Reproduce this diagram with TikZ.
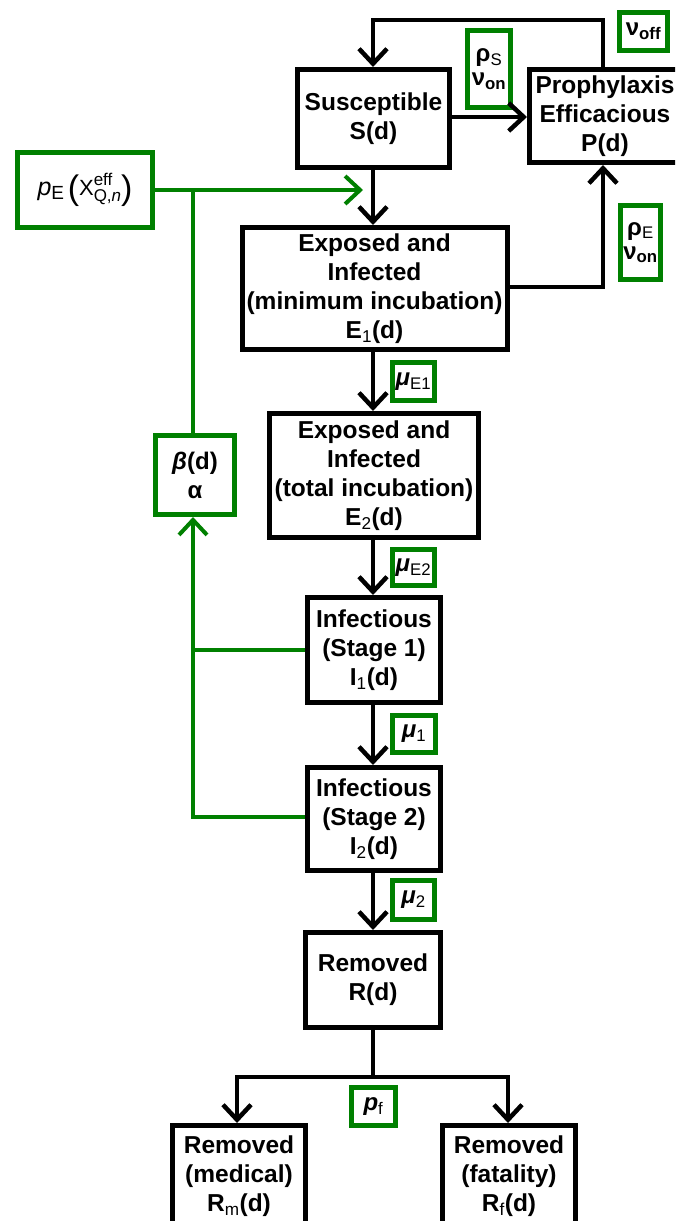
\documentclass[tikz,border=0pt]{standalone}
\usepackage{fontspec}
\setmainfont{Liberation Sans}
\usetikzlibrary{arrows.meta}
\definecolor{grn}{RGB}{0,128,0}
\newcommand{\sub}[1]{\textsubscript{\mdseries #1}}
\begin{document}
\begin{tikzpicture}[x=1pt,y=-1pt,
  comp/.style={draw=black,line width=5pt,fill=white,align=center,inner sep=0pt,
    font=\bfseries\fontsize{24.5}{29}\selectfont},
  param/.style={draw=grn,line width=5pt,fill=white,align=center,inner sep=0pt,
    font=\fontsize{24}{27}\selectfont},
  flow/.style={line width=4.5pt,-{Straight Barb[length=15pt,width=28pt]}},
  link/.style={line width=4.5pt},
  gflow/.style={draw=grn,line width=4pt,-{Straight Barb[length=15pt,width=28pt]}},
  glink/.style={draw=grn,line width=4pt}]
\useasboundingbox (0,0) rectangle (675,1221);
\clip (0,0) rectangle (675,1221);
\fill[white] (0,0) rectangle (675,1221);

% compartments
\node[comp,minimum width=152,minimum height=98] (S) at (373.5,118.5) {Susceptible\\S(d)};
\node[comp,minimum width=151,minimum height=93] (P) at (605,116) {Prophylaxis\\Efficacious\\P(d)};
\node[comp,minimum width=265,minimum height=122] (E1) at (374.5,288.5)
  {Exposed and\\Infected\\(minimum incubation)\\E\sub{1}(d)};
\node[comp,minimum width=209,minimum height=124] (E2) at (374,475.5)
  {Exposed and\\Infected\\(total incubation)\\E\sub{2}(d)};
\node[comp,minimum width=133,minimum height=105] (I1) at (374,650) {Infectious\\(Stage 1)\\I\sub{1}(d)};
\node[comp,minimum width=133,minimum height=103] (I2) at (374,819) {Infectious\\(Stage 2)\\I\sub{2}(d)};
\node[comp,minimum width=135,minimum height=95] (R) at (373,980) {Removed\\R(d)};
\node[comp,minimum width=133,minimum height=101] (Rm) at (239,1176) {Removed\\(medical)\\R\sub{m}(d)};
\node[comp,minimum width=133,minimum height=101] (Rf) at (509,1176) {Removed\\(fatality)\\R\sub{f}(d)};

% parameters
\node[param,minimum width=43,minimum height=77] (rs) at (489,69)
  {\bfseries ρ\sub{S}\\[-3pt]\bfseries ν\textsubscript{on}};
\node[param,minimum width=48,minimum height=38] (voff) at (643.5,31.5)
  {\bfseries ν\textsubscript{off}};
\node[param,minimum width=40,minimum height=74] (re) at (640.5,242.5)
  {\bfseries ρ\sub{E}\\[-3pt]\bfseries ν\textsubscript{on}};
\node[param,minimum width=135,minimum height=75,font=\fontsize{22}{24}\selectfont] (pE) at (85,190)
  {{\fontsize{25}{25}\selectfont\itshape p}\raisebox{-4pt}{\fontsize{19}{19}\selectfont E}\,\raisebox{-4pt}{\fontsize{34}{34}\selectfont(}X\rlap{\raisebox{10pt}{\fontsize{17}{17}\selectfont eff}}\raisebox{-6pt}{\fontsize{17}{17}\selectfont Q,{\itshape n}}\raisebox{-4pt}{\fontsize{34}{34}\selectfont)}};
\node[param,minimum width=79,minimum height=79,font=\bfseries\fontsize{24}{29}\selectfont] (beta) at (195,475)
  {{\itshape β}(d)\\α};
\node[param,minimum width=42,minimum height=38] (mE1) at (413.5,381.5) {{\bfseries\itshape μ}\sub{E1}};
\node[param,minimum width=42,minimum height=36] (mE2) at (413.5,567.5) {{\bfseries\itshape μ}\sub{E2}};
\node[param,minimum width=43,minimum height=37] (m1) at (414,734) {{\bfseries\itshape μ}\sub{1}};
\node[param,minimum width=42,minimum height=39] (m2) at (413.5,900) {{\bfseries\itshape μ}\sub{2}};
\node[param,minimum width=44,minimum height=38] (pf) at (373.5,1106.5) {{\bfseries\itshape p}\sub{f}};

% routing points
\coordinate (topR) at (603,20);
\coordinate (topL) at (373,20);
\coordinate (sideR) at (603,287);
\coordinate (split) at (373,1077);
\coordinate (splitL) at (237,1077);
\coordinate (splitR) at (508,1077);
\coordinate (ptip) at (363,190);
\coordinate (gtop) at (193,190);
\coordinate (gmid) at (193,650);
\coordinate (gbot) at (193,817);

% progression
\draw[flow] (S.south -| topL) -- (E1.north -| topL);
\draw[flow] (S.east |- 0,117) -- (P.west |- 0,117);
\draw[flow] (P.north -| topR) -- (topR) -- (topL) -- (S.north -| topL);
\draw[flow] (E1.east |- sideR) -- (sideR) -- (P.south -| sideR);
\draw[flow] (E1.south -| topL) -- (E2.north -| topL);
\draw[flow] (E2.south -| topL) -- (I1.north -| topL);
\draw[flow] (I1.south -| topL) -- (I2.north -| topL);
\draw[flow] (I2.south -| topL) -- (R.north -| topL);
\draw[link] (R.south -| split) -- (split);
\draw[flow] (split) -- (splitL) -- (Rm.north -| splitL);
\draw[flow] (split) -- (splitR) -- (Rf.north -| splitR);

% infection pressure
\draw[gflow] (pE.east |- ptip) -- (ptip);
\draw[glink] (gtop) -- (beta.north -| gtop);
\draw[glink] (I1.west |- gmid) -- (gmid);
\draw[gflow] (I2.west |- gbot) -- (gbot) -- (beta.south -| gbot);
\end{tikzpicture}
\end{document}
